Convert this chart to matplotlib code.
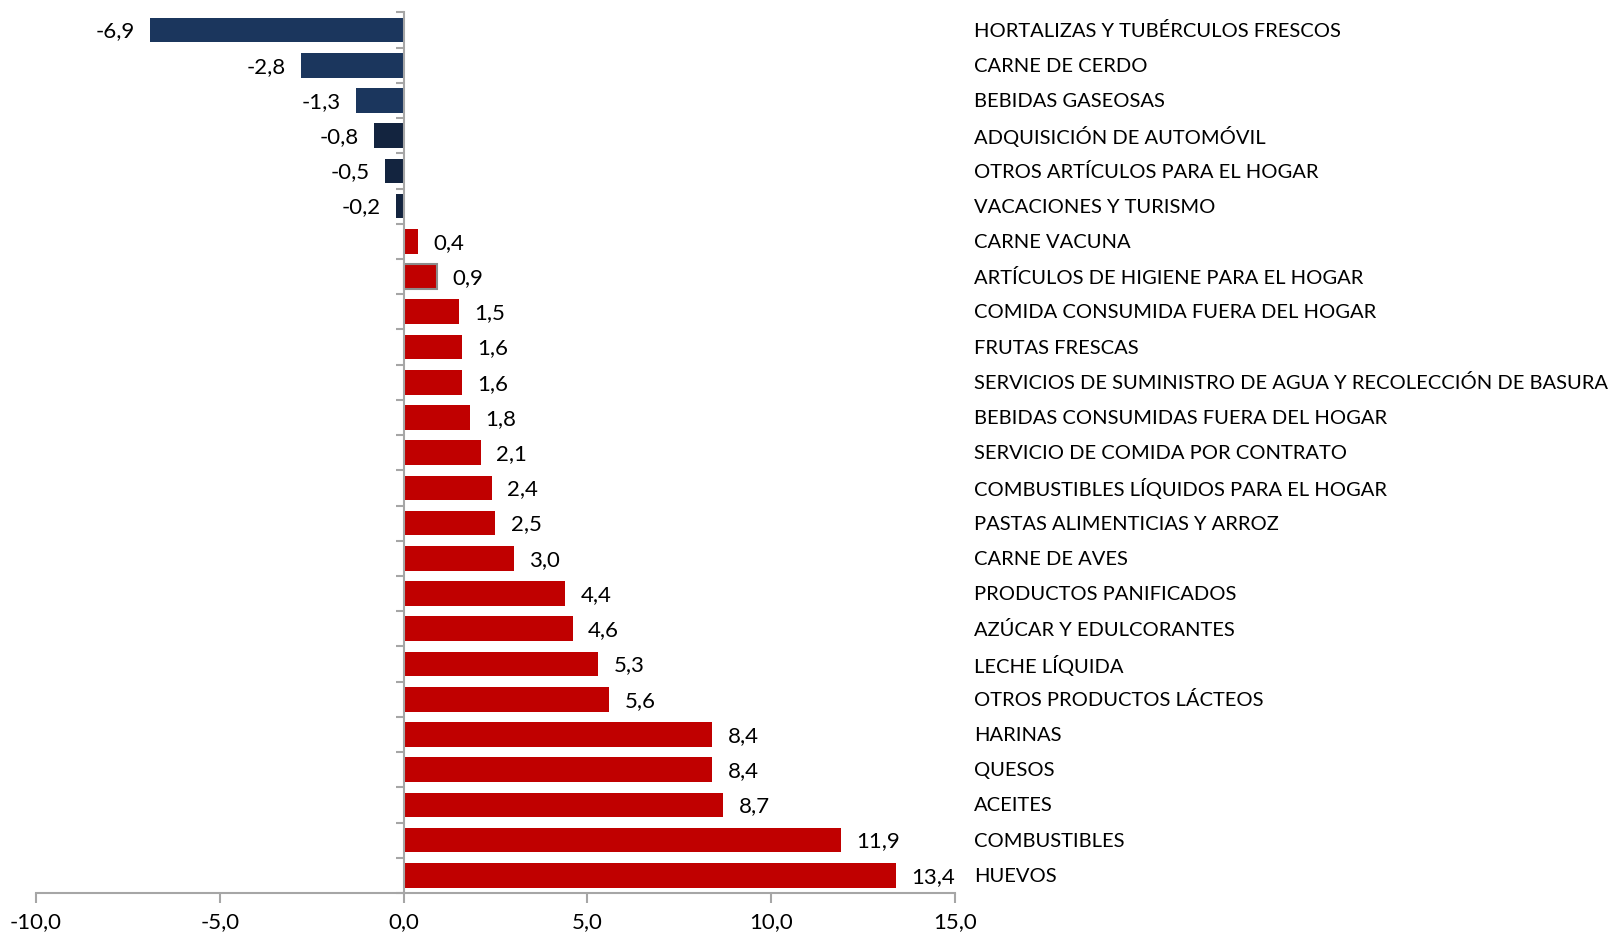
import matplotlib
matplotlib.use("Agg")
import matplotlib.pyplot as plt
from matplotlib.ticker import FixedLocator, FuncFormatter
import matplotlib.transforms as mtransforms

categories = [
    "HORTALIZAS Y TUBÉRCULOS FRESCOS",
    "CARNE DE CERDO",
    "BEBIDAS GASEOSAS",
    "ADQUISICIÓN DE AUTOMÓVIL",
    "OTROS ARTÍCULOS PARA EL HOGAR",
    "VACACIONES Y TURISMO",
    "CARNE VACUNA",
    "ARTÍCULOS DE HIGIENE PARA EL HOGAR",
    "COMIDA CONSUMIDA FUERA DEL HOGAR",
    "FRUTAS FRESCAS",
    "SERVICIOS DE SUMINISTRO DE AGUA Y RECOLECCIÓN DE BASURA",
    "BEBIDAS CONSUMIDAS FUERA DEL HOGAR",
    "SERVICIO DE COMIDA POR CONTRATO",
    "COMBUSTIBLES LÍQUIDOS PARA EL HOGAR",
    "PASTAS ALIMENTICIAS Y ARROZ",
    "CARNE DE AVES",
    "PRODUCTOS PANIFICADOS",
    "AZÚCAR Y EDULCORANTES",
    "LECHE LÍQUIDA",
    "OTROS PRODUCTOS LÁCTEOS",
    "HARINAS",
    "QUESOS",
    "ACEITES",
    "COMBUSTIBLES",
    "HUEVOS",
]
values = [-6.9, -2.8, -1.3, -0.8, -0.5, -0.2, 0.4, 0.9, 1.5, 1.6, 1.6, 1.8, 2.1,
          2.4, 2.5, 3.0, 4.4, 4.6, 5.3, 5.6, 8.4, 8.4, 8.7, 11.9, 13.4]
x_ticks = [-10, -5, 0, 5, 10, 15]

NAVY = "#1B365D"
DARK_NAVY = "#13243F"
RED = "#C00000"

colors = []
for i, v in enumerate(values):
    if v >= 0:
        colors.append(RED)
    elif v <= -1.0:
        colors.append(NAVY)
    else:
        colors.append(DARK_NAVY)

plt.rcParams['font.family'] = ['Lato', 'DejaVu Sans']

W, H = 1615, 936
fig = plt.figure(figsize=(W / 100, H / 100), dpi=100)
ax = fig.add_axes([36 / W, 1 - 893 / H, (955 - 36) / W, (893 - 12.4) / H])

n = len(values)
ypos = list(range(n))
bars = ax.barh(ypos, values, height=0.70, color=colors, zorder=2)
idx = categories.index("ARTÍCULOS DE HIGIENE PARA EL HOGAR")
bars[idx].set_edgecolor("#8C8C8C")
bars[idx].set_linewidth(1.5)

ax.set_ylim(n - 0.5, -0.5)
ax.set_xlim(-10, 15)

fs_cat = 14.5
fs_val = 16
for i, v in enumerate(values):
    lbl = f"{v:.1f}".replace(".", ",")
    if v < 0:
        ax.annotate(lbl, (v, i), xytext=(-11, -1), textcoords="offset points",
                    ha="right", va="center", fontsize=fs_val, color="black")
    else:
        ax.annotate(lbl, (v, i), xytext=(11, -1), textcoords="offset points",
                    ha="left", va="center", fontsize=fs_val, color="black")

trans = mtransforms.blended_transform_factory(fig.transFigure, ax.transData)
offset = mtransforms.ScaledTranslation(0, -1 / 100, fig.dpi_scale_trans)
for i, c in enumerate(categories):
    ax.text(974 / W, i, c, transform=trans + offset, ha="left", va="center",
            fontsize=fs_cat, color="black")

for s in ["top", "right"]:
    ax.spines[s].set_visible(False)
ax.spines["left"].set_position(("data", 0))
ax.spines["left"].set_color("#A6A6A6")
ax.spines["left"].set_linewidth(1.5)
ax.spines["bottom"].set_color("#A6A6A6")
ax.spines["bottom"].set_linewidth(1.5)

ax.xaxis.set_major_locator(FixedLocator(x_ticks))
ax.xaxis.set_major_formatter(FuncFormatter(lambda x, p: f"{x:.1f}".replace(".", ",")))
ax.tick_params(axis="x", direction="out", length=7, width=1.5, color="#A6A6A6",
               labelsize=fs_val, pad=7)
ax.yaxis.set_major_locator(FixedLocator([i - 0.5 for i in range(n + 1)]))
ax.set_yticklabels([])
ax.tick_params(axis="y", direction="out", length=6, width=1.5, color="#A6A6A6")

fig.savefig("out.png", dpi=100)
